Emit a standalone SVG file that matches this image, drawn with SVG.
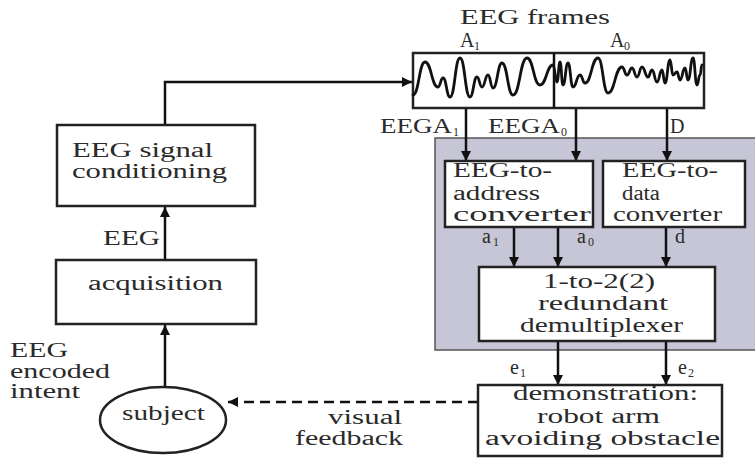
<svg xmlns="http://www.w3.org/2000/svg" width="755" height="458" viewBox="0 0 755 458">
  <defs>
    <marker id="arrow" viewBox="0 0 10 10" refX="10" refY="5" markerWidth="10" markerHeight="10" markerUnits="userSpaceOnUse" orient="auto">
      <path d="M0,0 L10,5 L0,10 Z" fill="#111"/>
    </marker>
    <style>
      .box { fill: #fff; stroke: #222; stroke-width: 2.5; }
      .panel { fill: #c6c6d6; stroke: #555; stroke-width: 1.5; }
      .line { fill: none; stroke: #111; stroke-width: 2.5; }
      .dash { fill: none; stroke: #111; stroke-width: 2.5; stroke-dasharray: 10 6; }
      .wave { fill: none; stroke: #111; stroke-width: 2.8; stroke-linejoin: round; stroke-linecap: round; }
      text { font-family: "Liberation Serif", "Times New Roman", serif; font-size: 20px; fill: #2a2a2a; }
      .sub { font-size: 12px; }
    </style>
  </defs>
  <rect width="755" height="458" fill="#fff"/>

  <!-- shaded region holding the converters and the demultiplexer -->
  <rect class="panel" x="435" y="138" width="330" height="212"/>

  <g id="connectors">
    <path class="line" d="M165,125 V82 H412" marker-end="url(#arrow)"/>
    <path class="line" d="M165,260 V207" marker-end="url(#arrow)"/>
    <path class="line" d="M165,387 V325" marker-end="url(#arrow)"/>
    <path class="line" d="M466,108 V161" marker-end="url(#arrow)"/>
    <path class="line" d="M576,108 V161" marker-end="url(#arrow)"/>
    <path class="line" d="M667,108 V161" marker-end="url(#arrow)"/>
    <path class="line" d="M514,227 V267" marker-end="url(#arrow)"/>
    <path class="line" d="M558,227 V267" marker-end="url(#arrow)"/>
    <path class="line" d="M666,227 V267" marker-end="url(#arrow)"/>
    <path class="line" d="M558,341 V385" marker-end="url(#arrow)"/>
    <path class="line" d="M666,341 V385" marker-end="url(#arrow)"/>
    <path class="dash" d="M478,402 H228" marker-end="url(#arrow)"/>
  </g>

  <g id="frames">
    <rect class="box" x="413" y="53" width="291" height="55"/>
    <line class="line" x1="554" y1="53" x2="554" y2="108"/>
    <!-- EEG trace: peaks and troughs joined by smooth cubic segments -->
    <path class="wave" d="M413,95
      C419,95 419,62 425,62 C431.5,62 431.5,87 438,87 C440.5,87 440.5,78 443,78 C446.5,78 446.5,97 450,97
      C455,97 455,58 460,58 C465,58 465,97 470,97 C473.5,97 473.5,77 477,77 C479.5,77 479.5,87 482,87
      C485,87 485,75 488,75 C490.5,75 490.5,88 493,88 C497.5,88 497.5,63 502,63 C507.5,63 507.5,95 513,95
      C520,95 520,58 527,58 C533.5,58 533.5,85 540,85 C546.5,85 546.5,65 553,65 C555,65 555,82 557,82
      C558.5,82 558.5,62 560,62 C561.5,62 561.5,85 563,85 C565.5,85 565.5,63 568,63 C570.5,63 570.5,87 573,87
      C576.5,87 576.5,75 580,75 C582.5,75 582.5,83 585,83 C591.5,83 591.5,58 598,58 C603,58 603,93 608,93
      C615,93 615,67 622,67 C624.5,67 624.5,75 627,75 C629.5,75 629.5,68 632,68 C634.5,68 634.5,77 637,77
      C639.5,77 639.5,67 642,67 C645,67 645,77 648,77 C650,77 650,70 652,70 C654.5,70 654.5,82 657,82
      C659.5,82 659.5,70 662,70 C663.5,70 663.5,83 665,83 C667.5,83 667.5,60 670,60 C671.5,60 671.5,75 673,75
      C675,75 675,72 677,72 C678.5,72 678.5,80 680,80 C682.5,80 682.5,68 685,68 C686.5,68 686.5,80 688,80
      C690.5,80 690.5,58 693,58 C695,58 695,85 697,85 C698.5,85 698.5,75 700,75 C701,75 701,65 702,65"/>
    <text x="460" y="24" textLength="150" lengthAdjust="spacingAndGlyphs">EEG frames</text>
    <text x="460" y="47">A</text><text class="sub" x="474" y="50">1</text>
    <text x="610" y="47">A</text><text class="sub" x="624" y="50">0</text>
  </g>

  <g id="frame-labels">
    <text x="380" y="133" textLength="72" lengthAdjust="spacingAndGlyphs">EEGA</text><text class="sub" x="453" y="136">1</text>
    <text x="488" y="133" textLength="72" lengthAdjust="spacingAndGlyphs">EEGA</text><text class="sub" x="561" y="136">0</text>
    <text x="670" y="133">D</text>
  </g>

  <g id="conditioning">
    <rect class="box" x="57" y="125" width="198" height="81"/>
    <text x="72" y="157" textLength="141" lengthAdjust="spacingAndGlyphs">EEG signal</text>
    <text x="72" y="178" textLength="155" lengthAdjust="spacingAndGlyphs">conditioning</text>
  </g>

  <text x="103" y="245" textLength="57" lengthAdjust="spacingAndGlyphs">EEG</text>

  <g id="acquisition">
    <rect class="box" x="56" y="260" width="200" height="64"/>
    <text x="88" y="290" textLength="135" lengthAdjust="spacingAndGlyphs">acquisition</text>
  </g>

  <g id="intent-label">
    <text x="10" y="357" textLength="58" lengthAdjust="spacingAndGlyphs">EEG</text>
    <text x="10" y="378" textLength="100" lengthAdjust="spacingAndGlyphs">encoded</text>
    <text x="10" y="398" textLength="70" lengthAdjust="spacingAndGlyphs">intent</text>
  </g>

  <g id="subject">
    <ellipse class="box" cx="163" cy="420" rx="63" ry="33"/>
    <text x="122" y="420" textLength="83" lengthAdjust="spacingAndGlyphs">subject</text>
  </g>

  <g id="feedback-label">
    <text x="328" y="424" textLength="74" lengthAdjust="spacingAndGlyphs">visual</text>
    <text x="295" y="445" textLength="108" lengthAdjust="spacingAndGlyphs">feedback</text>
  </g>

  <g id="address-converter">
    <rect class="box" x="445" y="161" width="148" height="66"/>
    <text x="453" y="177" textLength="99" lengthAdjust="spacingAndGlyphs">EEG-to-</text>
    <text x="453" y="200" textLength="87" lengthAdjust="spacingAndGlyphs">address</text>
    <text x="453" y="221" textLength="138" lengthAdjust="spacingAndGlyphs">converter</text>
  </g>

  <g id="data-converter">
    <rect class="box" x="603" y="161" width="142" height="66"/>
    <text x="622" y="177" textLength="96" lengthAdjust="spacingAndGlyphs">EEG-to-</text>
    <text x="622" y="200" textLength="38" lengthAdjust="spacingAndGlyphs">data</text>
    <text x="613" y="221" textLength="109" lengthAdjust="spacingAndGlyphs">converter</text>
  </g>

  <g id="converter-labels">
    <text x="482" y="243">a</text><text class="sub" x="493" y="246">1</text>
    <text x="577" y="243">a</text><text class="sub" x="588" y="246">0</text>
    <text x="675" y="243">d</text>
  </g>

  <g id="demultiplexer">
    <rect class="box" x="479" y="267" width="236" height="74"/>
    <text x="543" y="288" textLength="112" lengthAdjust="spacingAndGlyphs">1-to-2(2)</text>
    <text x="538" y="310" textLength="130" lengthAdjust="spacingAndGlyphs">redundant</text>
    <text x="520" y="332" textLength="163" lengthAdjust="spacingAndGlyphs">demultiplexer</text>
  </g>

  <g id="output-labels">
    <text x="510" y="374">e</text><text class="sub" x="520" y="377">1</text>
    <text x="678" y="374">e</text><text class="sub" x="688" y="377">2</text>
  </g>

  <g id="demonstration">
    <rect class="box" x="478" y="385" width="244" height="71"/>
    <text x="513" y="400" textLength="185" lengthAdjust="spacingAndGlyphs">demonstration:</text>
    <text x="537" y="423" textLength="123" lengthAdjust="spacingAndGlyphs">robot arm</text>
    <text x="485" y="445" textLength="235" lengthAdjust="spacingAndGlyphs">avoiding obstacle</text>
  </g>
</svg>
